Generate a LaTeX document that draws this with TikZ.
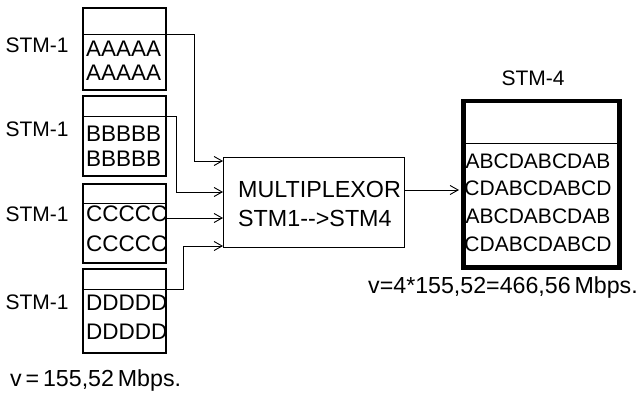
\documentclass[tikz,border=0pt]{standalone}
\usepackage{fontspec}
\setmainfont{Liberation Sans}
\usetikzlibrary{arrows.meta}
\begin{document}
\begin{tikzpicture}[x=1pt,y=-1pt,
  txt/.style={inner sep=0pt,font=\fontsize{21}{24}\selectfont},
  boxtxt/.style={inner sep=0pt,anchor=west,font=\fontsize{22.5}{24}\selectfont},
  muxtxt/.style={inner sep=0pt,anchor=west,font=\fontsize{23.3}{26}\selectfont},
  spdtxt/.style={inner sep=0pt,anchor=west,font=\fontsize{23.2}{26}\selectfont},
  stmbox/.style={draw,line width=2pt,inner sep=0pt,anchor=north west,minimum width=83pt},
  bigbox/.style={draw,line width=4.5pt,inner sep=0pt,anchor=north west,minimum width=156pt,minimum height=166pt},
  muxbox/.style={draw,line width=1.2pt,inner sep=0pt,anchor=north west,minimum width=181pt,minimum height=90pt},
  thin/.style={line width=0.9pt},
  arr/.style={line width=0.9pt,-{Straight Barb[length=8pt,width=9pt]}}]
\useasboundingbox (0,0) rectangle (643,401);
% STM-1 boxes
\node[stmbox,minimum height=82pt] (a) at (82,7) {};
\node[stmbox,minimum height=80pt] (b) at (82,95) {};
\node[stmbox,minimum height=79pt] (c) at (82,183) {};
\node[stmbox,minimum height=84pt] (d) at (82,268) {};
\draw[thin] (a.west |- 0,34) coordinate (a1) -- (a.east |- 0,34) coordinate (a2);
\draw[thin] (b.west |- 0,116) coordinate (b1) -- (b.east |- 0,116) coordinate (b2);
\draw[thin] (c.west |- 0,203) -- (c.east |- 0,203);
\draw[thin] (d.west |- 0,289) -- (d.east |- 0,289) coordinate (d2);
% labels
\node[txt] (la) at (37,45) {STM-1};
\node[txt] (lb) at (37,129) {STM-1};
\node[txt] (lc) at (37,214) {STM-1};
\node[txt] (ld) at (37,302) {STM-1};
\node[boxtxt] (ta1) at (86,49) {AAAAA};
\node[boxtxt] (ta2) at (86,73) {AAAAA};
\node[boxtxt] (tb1) at (86,134) {BBBBB};
\node[boxtxt] (tb2) at (86,159) {BBBBB};
\node[boxtxt] (tc1) at (86,214) {CCCCC};
\node[boxtxt] (tc2) at (86,244) {CCCCC};
\node[boxtxt] (td1) at (86,303) {DDDDD};
\node[boxtxt] (td2) at (86,332) {DDDDD};
% multiplexor
\node[muxbox] (mux) at (223,157) {};
\node[muxtxt] (m1) at (238,189) {MULTIPLEXOR};
\node[muxtxt] (m2) at (238,218) {STM1-{}-{}>STM4};
% arrows into mux
\draw[arr] (a2) -- (194,34) -- (194,161) -- (mux.west |- 0,161);
\draw[arr] (b2) -- (176,116) -- (176,192) -- (mux.west |- 0,192);
\draw[arr] (c.east |- 0,218) -- (mux.west |- 0,218);
\draw[arr] (d2) -- (183,289) -- (183,246) -- (mux.west |- 0,246);
% STM-4
\node[txt] (l4) at (533,78) {STM-4};
\node[bigbox] (e) at (461,99) {};
\draw[thin] (e.west |- 0,143) -- (e.east |- 0,143);
\node[txt] (e1) at (538,161) {ABCDABCDAB};
\node[txt] (e2) at (538,188) {CDABCDABCD};
\node[txt] (e3) at (538,216) {ABCDABCDAB};
\node[txt] (e4) at (538,244) {CDABCDABCD};
\draw[arr] (mux.east |- 0,190) -- ([xshift=-2pt]e.west |- 0,190);
% speeds
\node[spdtxt] (v4) at (368,288) {v=4*155,52=466,56\,Mbps.};
\node[spdtxt] (v1) at (10,381) {v\,=\,155,52\,Mbps.};
\end{tikzpicture}
\end{document}
